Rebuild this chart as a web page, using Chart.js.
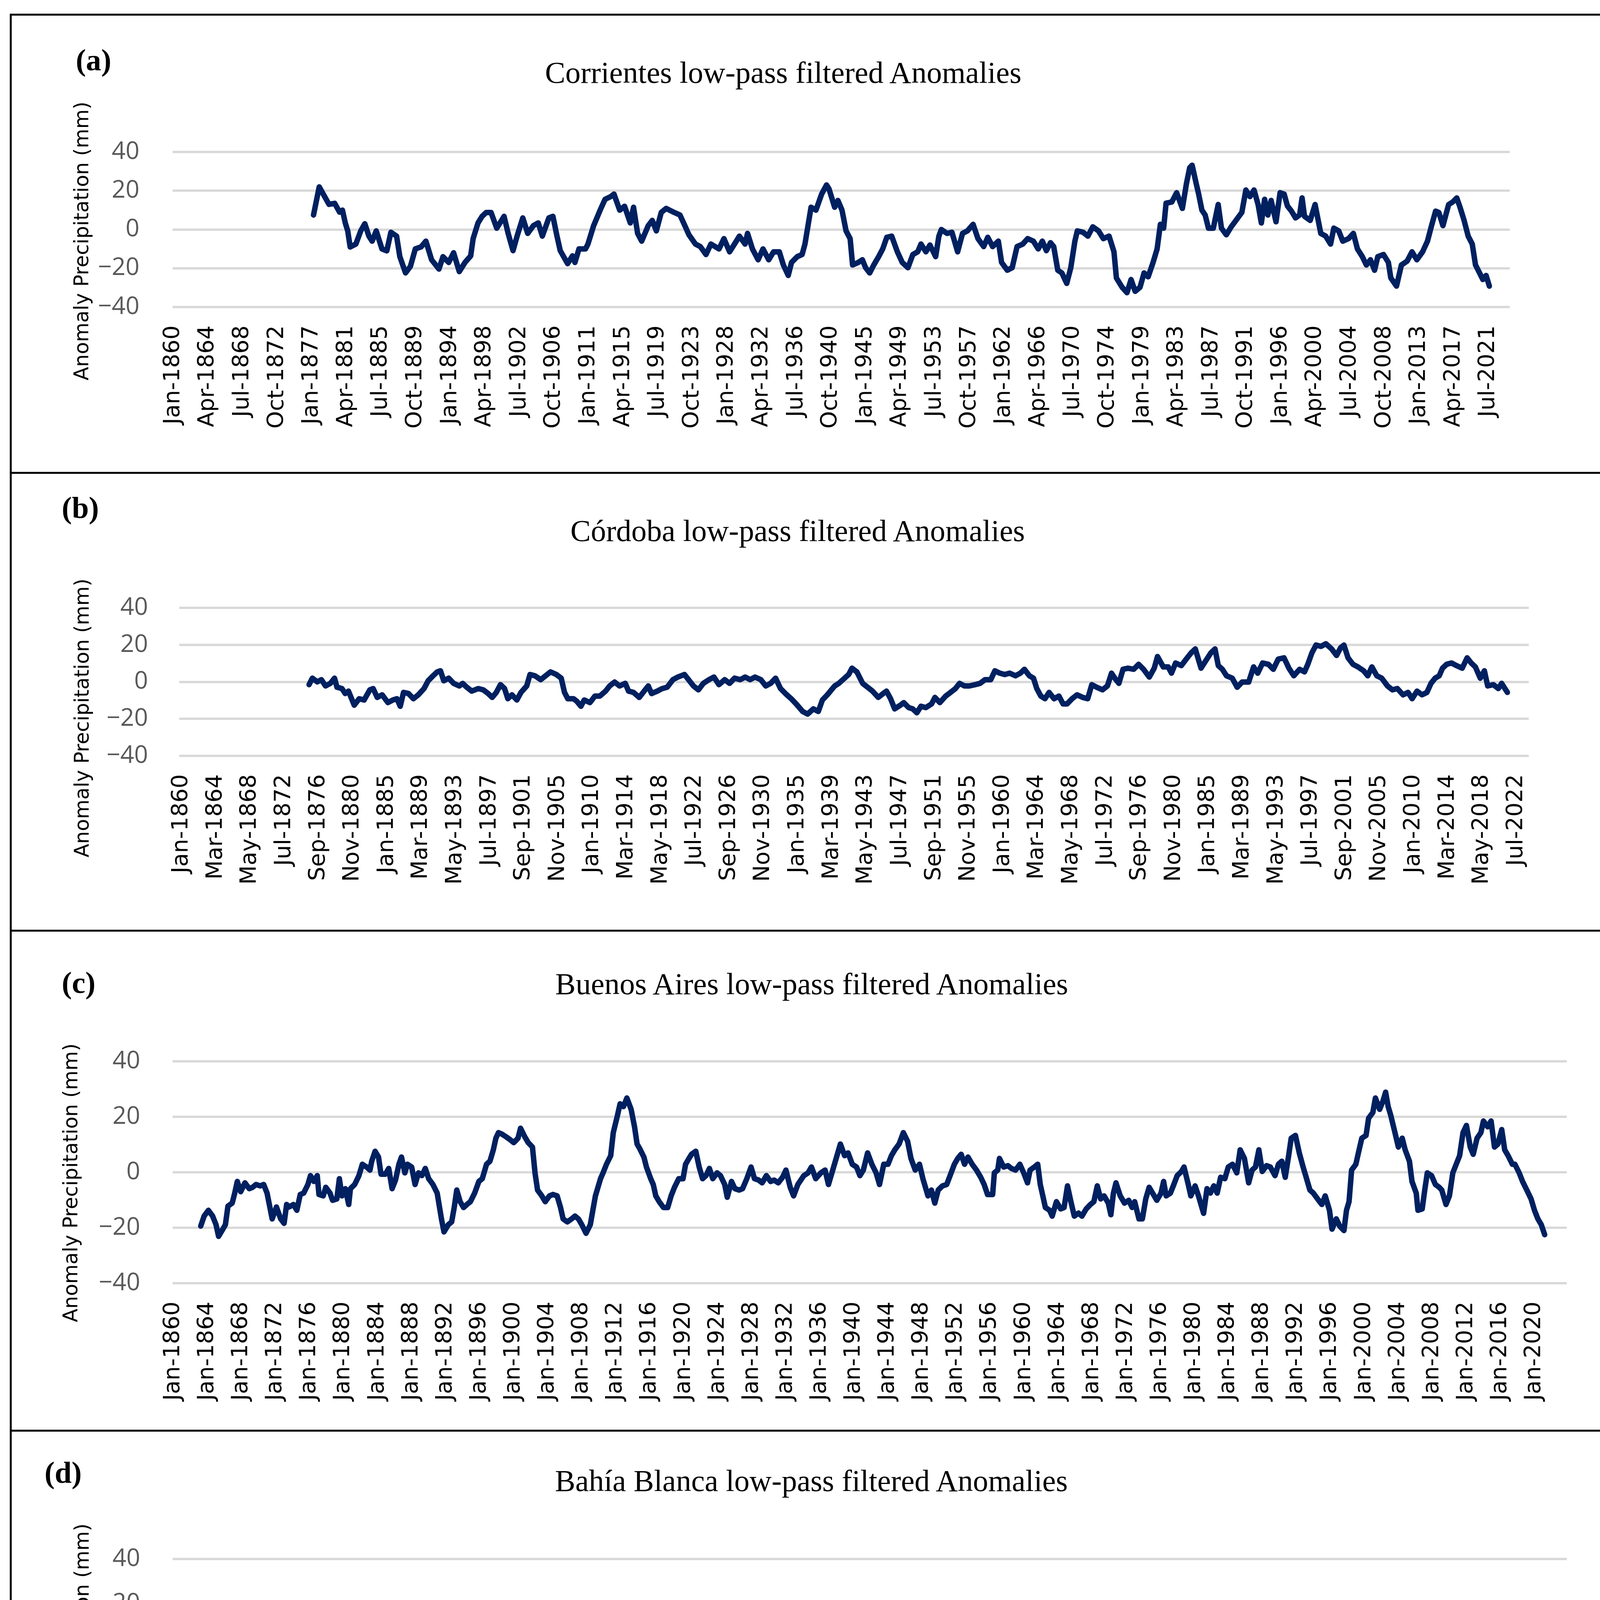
<!DOCTYPE html>
<html>
<head>
<meta charset="utf-8">
<title>Low-pass filtered precipitation anomalies</title>
<script src="https://cdn.jsdelivr.net/npm/chart.js"></script>
<style>
  html, body { margin: 0; padding: 0; background: #fff; }
  body { position: relative; width: 4159px; height: 4869px; overflow: hidden; }
  .frame { position: absolute; left: 25px; top: 35px; width: 4096px; height: 4800px; border: 5px solid #000; box-sizing: border-box; }
  .rule { position: absolute; left: 25px; width: 4096px; height: 5px; background: #000; }
  .tag { position: absolute; font: bold 78px "Liberation Serif", "Times New Roman", serif; line-height: 1; white-space: nowrap; }
  .ttl { position: absolute; font: 78px "Liberation Serif", "Times New Roman", serif; line-height: 1; white-space: nowrap; transform: translateX(-50%); }
  .ytl { position: absolute; font: 51px "DejaVu Sans", sans-serif; line-height: 1; white-space: nowrap; color: #000;
         transform: translate(-50%, -50%) rotate(-90deg); }
  canvas { position: absolute; }
</style>
</head>
<body>

<div class="frame"></div>
<div class="rule" style="top:1208px"></div>
<div class="rule" style="top:2380px"></div>
<div class="rule" style="top:3660px"></div>

<div class="tag" style="left:194px;top:115px">(a)</div>
<div class="ttl" style="left:2005px;top:147px">Corrientes low-pass filtered Anomalies</div>
<div class="ytl" style="left:208px;top:617px">Anomaly Precipitation (mm)</div>
<canvas id="chartA"></canvas>

<div class="tag" style="left:158px;top:1261px">(b)</div>
<div class="ttl" style="left:2042px;top:1320px">Córdoba low-pass filtered Anomalies</div>
<div class="ytl" style="left:209px;top:1838px">Anomaly Precipitation (mm)</div>
<canvas id="chartB"></canvas>

<div class="tag" style="left:158px;top:2477px">(c)</div>
<div class="ttl" style="left:2078px;top:2480px">Buenos Aires low-pass filtered Anomalies</div>
<div class="ytl" style="left:180px;top:3028px">Anomaly Precipitation (mm)</div>
<canvas id="chartC"></canvas>

<div class="tag" style="left:114px;top:3731px">(d)</div>
<div class="ttl" style="left:2077px;top:3752px">Bahía Blanca low-pass filtered Anomalies</div>
<div class="ytl" style="left:209px;top:4257px">Anomaly Precipitation (mm)</div>
<canvas id="chartD"></canvas>

<script>
// ---- data (decimal year, anomaly in mm) ----

const yTickValues = [-40, -20, 0, 20, 40];

const corrientesTicks = ['Jan-1860','Apr-1864','Jul-1868','Oct-1872','Jan-1877','Apr-1881','Jul-1885','Oct-1889',
  'Jan-1894','Apr-1898','Jul-1902','Oct-1906','Jan-1911','Apr-1915','Jul-1919','Oct-1923','Jan-1928','Apr-1932',
  'Jul-1936','Oct-1940','Jan-1945','Apr-1949','Jul-1953','Oct-1957','Jan-1962','Apr-1966','Jul-1970','Oct-1974',
  'Jan-1979','Apr-1983','Jul-1987','Oct-1991','Jan-1996','Apr-2000','Jul-2004','Oct-2008','Jan-2013','Apr-2017','Jul-2021'];

const cordobaTicks = ['Jan-1860','Mar-1864','May-1868','Jul-1872','Sep-1876','Nov-1880','Jan-1885','Mar-1889',
  'May-1893','Jul-1897','Sep-1901','Nov-1905','Jan-1910','Mar-1914','May-1918','Jul-1922','Sep-1926','Nov-1930',
  'Jan-1935','Mar-1939','May-1943','Jul-1947','Sep-1951','Nov-1955','Jan-1960','Mar-1964','May-1968','Jul-1972',
  'Sep-1976','Nov-1980','Jan-1985','Mar-1989','May-1993','Jul-1997','Sep-2001','Nov-2005','Jan-2010','Mar-2014',
  'May-2018','Jul-2022'];

const fourYearTicks = ['Jan-1860','Jan-1864','Jan-1868','Jan-1872','Jan-1876','Jan-1880','Jan-1884','Jan-1888',
  'Jan-1892','Jan-1896','Jan-1900','Jan-1904','Jan-1908','Jan-1912','Jan-1916','Jan-1920','Jan-1924','Jan-1928',
  'Jan-1932','Jan-1936','Jan-1940','Jan-1944','Jan-1948','Jan-1952','Jan-1956','Jan-1960','Jan-1964','Jan-1968',
  'Jan-1972','Jan-1976','Jan-1980','Jan-1984','Jan-1988','Jan-1992','Jan-1996','Jan-2000','Jan-2004','Jan-2008',
  'Jan-2012','Jan-2016','Jan-2020'];

const corrientesYears = [1877.2,1877.9,1879.1,1879.8,1880.4,1880.75,1881.1,1881.4,1881.7,1882.4,1883.0,1883.5,1884.0,
  1884.4,1884.9,1885.6,1886.2,1886.7,1887.4,1887.8,1888.5,1889.1,1889.7,1890.4,1891.0,1891.7,1892.6,1893.1,1893.8,
  1894.4,1895.1,1895.8,1896.5,1896.8,1897.4,1897.9,1898.4,1899.0,1899.7,1900.6,1901.1,1901.7,1902.2,1902.9,1903.5,
  1904.2,1904.8,1905.3,1906.1,1906.6,1907.1,1907.5,1908.4,1909.0,1909.3,1909.8,1910.6,1910.9,1911.6,1912.4,1913.0,
  1913.7,1914.1,1914.8,1915.4,1916.1,1916.5,1917.0,1917.5,1918.3,1918.8,1919.3,1919.9,1920.5,1921.5,1922.2,1922.8,
  1923.3,1924.1,1924.7,1925.4,1926.0,1927.0,1927.6,1928.3,1928.9,1929.5,1930.2,1930.5,1931.1,1931.8,1932.4,1933.1,
  1933.7,1934.4,1934.9,1935.5,1935.9,1936.6,1937.2,1937.55,1938.3,1938.9,1939.6,1940.2,1940.5,1941.2,1941.6,1942.1,
  1942.6,1943.1,1943.4,1944.1,1944.6,1945.0,1945.5,1946.0,1946.6,1947.1,1947.6,1948.2,1948.9,1949.5,1950.2,1950.8,
  1951.4,1951.8,1952.4,1952.9,1953.6,1954.0,1954.3,1955.0,1955.6,1956.3,1956.9,1957.5,1958.2,1958.8,1959.5,1960.0,
  1960.6,1961.3,1961.7,1962.4,1963.0,1963.6,1964.3,1964.9,1965.6,1966.2,1966.7,1967.2,1967.7,1968.1,1968.6,1969.1,
  1969.7,1970.2,1970.7,1971.0,1971.7,1972.3,1972.9,1973.6,1974.2,1974.9,1975.5,1975.8,1976.5,1977.1,1977.6,1978.1,
  1978.7,1979.2,1979.7,1980.3,1980.8,1981.2,1981.6,1981.9,1982.6,1983.2,1983.9,1984.4,1984.8,1985.1,1985.6,1985.9,
  1986.3,1986.7,1987.1,1987.7,1988.3,1988.7,1989.3,1989.9,1990.6,1991.2,1991.7,1992.2,1992.7,1993.2,1993.6,1994.0,
  1994.4,1994.8,1995.4,1995.9,1996.4,1996.8,1997.3,1997.8,1998.3,1998.6,1998.9,1999.6,2000.2,2000.9,2001.5,2002.1,
  2002.5,2003.1,2003.6,2004.3,2004.9,2005.4,2006.0,2006.5,2007.0,2007.5,2007.9,2008.6,2009.2,2009.5,2010.2,2010.8,
  2011.5,2012.1,2012.7,2013.4,2014.0,2014.5,2015.0,2015.4,2015.9,2016.6,2017.1,2017.6,2018.0,2018.5,2019.0,2019.5,
  2019.9,2020.4,2020.8,2021.2,2021.6];
const corrientesValues = [7.5,22,13,13.5,9,10,3.4,-0.7,-9,-7.5,-0.7,3,-3.4,
  -6,-0.7,-10,-11,-1.4,-3.4,-14,-22.4,-19,-10,-9,-6,-15.6,-20.4,-14,-17,
  -12,-21.7,-17,-13.6,-4.7,3.4,6.8,8.8,8.8,0.7,6.8,-2,-10.9,-3.4,6,-2,
  2,3.4,-3.4,6,6.8,-3.4,-10.9,-17.6,-13.6,-17,-10,-10,-7.5,2,10,15.6,
  17,18.3,10,12,3.4,11.5,-2,-6,2,4.7,-0.7,8.8,10.9,8.8,7.5,2,
  -2.7,-7.5,-8.8,-12.9,-7.5,-10,-4.7,-11.5,-7.5,-3.4,-7.5,-2,-10,-15.6,-10,-15.6,
  -11.5,-11.5,-18.3,-23.7,-17,-14,-12.9,-7.5,11.5,10,18.3,23,21,11.5,15,10,
  -0.7,-4.7,-18.3,-17,-15.6,-19.7,-22.4,-18.3,-14,-10,-4,-3.4,-11.5,-17,-19.7,-12.9,
  -11.5,-7.5,-11.5,-8,-14,-3.4,0,-2,-1.4,-11.5,-2,-0.7,2.7,-4.7,-8.8,-4,
  -8.8,-6,-17,-21,-19.7,-8.8,-7.5,-4.7,-6,-10,-6,-10.9,-6.8,-8.8,-21,-22.4,
  -27.8,-19.7,-6,-0.7,-1.4,-3.4,1.4,-0.7,-4.7,-3.4,-11.5,-25,-29.8,-32.6,-25.8,-31.9,
  -29.8,-22.4,-24.4,-17,-10,2.7,0.7,13.6,14.2,19,10.9,23.7,31.9,33.2,23.7,18.3,
  10,7.5,0.7,0.7,12.9,0.7,-2.7,1.4,5.4,8.8,20.4,17,20.4,12.9,3.4,15.6,
  7.5,15,4,19,18.3,12.2,9.5,6,7.5,16.3,6.8,4.7,12.9,-2,-3.4,-7.5,
  0.7,-0.7,-6,-4.7,-2,-10,-14,-18.3,-15.6,-21,-14,-12.9,-17,-25,-29.2,-18.3,
  -16.3,-11.5,-15.6,-11.5,-6,2,9.5,8.8,2,12.9,14.2,16.3,11.5,4.7,-3.4,-7.5,
  -18.3,-22.4,-25.8,-23.7,-29.2];

const cordobaYears = [1875.5,1875.9,1876.5,1877.0,1877.5,1878.1,1878.6,1878.9,1879.5,1879.9,1880.3,1881.0,1881.6,
  1882.2,1882.9,1883.3,1883.8,1884.4,1885.1,1885.7,1886.2,1886.6,1887.0,1887.6,1888.2,1888.8,1889.5,1890.0,1890.6,
  1891.1,1891.5,1891.9,1892.5,1893.1,1893.8,1894.2,1894.7,1895.3,1896.1,1896.7,1897.3,1897.8,1898.3,1898.8,1899.3,
  1899.7,1900.2,1900.8,1901.3,1902.0,1902.4,1903.0,1903.7,1904.3,1904.9,1905.6,1906.2,1906.6,1907.0,1907.7,1908.1,
  1908.6,1909.0,1909.7,1910.3,1910.9,1911.6,1912.1,1912.7,1913.3,1914.0,1914.4,1915.0,1915.7,1916.3,1916.8,1917.2,
  1917.9,1918.5,1919.1,1919.8,1920.4,1921.2,1921.7,1922.3,1922.9,1923.5,1924.2,1924.8,1925.4,1926.1,1926.7,1927.3,
  1928.0,1928.6,1929.2,1929.8,1930.5,1931.1,1931.7,1932.3,1932.9,1933.5,1934.2,1934.8,1935.6,1936.2,1936.9,1937.5,
  1938.0,1938.6,1939.1,1939.5,1940.0,1940.7,1941.2,1941.6,1942.2,1942.9,1943.5,1944.1,1944.8,1945.4,1945.8,1946.3,
  1946.8,1947.5,1947.9,1948.5,1949.0,1949.5,1950.0,1950.6,1951.3,1951.7,1952.3,1953.0,1953.6,1954.2,1954.7,1955.3,
  1955.9,1956.6,1957.2,1957.8,1958.5,1959.0,1959.6,1960.2,1960.8,1961.5,1962.1,1962.6,1963.2,1963.7,1964.1,1964.6,
  1965.1,1965.6,1966.2,1966.8,1967.3,1967.8,1968.4,1969.0,1969.7,1970.3,1970.8,1971.4,1972.1,1972.7,1973.2,1973.6,
  1974.1,1974.6,1975.2,1975.9,1976.5,1977.1,1977.8,1978.4,1978.8,1979.5,1980.1,1980.5,1981.0,1981.7,1982.3,1982.9,
  1983.4,1984.1,1984.7,1985.3,1985.8,1986.2,1986.7,1987.2,1987.9,1988.5,1989.1,1989.9,1990.5,1991.0,1991.6,1992.3,
  1992.9,1993.5,1994.2,1994.8,1995.4,1996.1,1996.7,1997.1,1997.6,1998.1,1998.7,1999.3,2000.0,2000.6,2001.1,2001.5,
  2002.0,2002.6,2003.2,2003.9,2004.4,2004.9,2005.5,2006.1,2006.8,2007.4,2008.0,2008.7,2009.3,2009.8,2010.4,2011.0,
  2011.6,2012.1,2012.6,2013.1,2013.5,2014.0,2014.6,2015.2,2015.9,2016.5,2017.0,2017.5,2018.1,2018.6,2019.0,2019.7,
  2020.3,2020.7,2021.1,2021.4];
const cordobaValues = [-1.5,2,0,1.2,-2.2,-0.8,2,-2.9,-3.6,-6.3,-5,-12.6,-9.1,
  -9.8,-4.3,-3.6,-8.4,-7,-11.2,-9.8,-9.1,-13.2,-5.7,-6.3,-9.1,-7,-3.6,0.6,3.3,
  5.4,6,0.6,2,-0.8,-2.2,-0.8,-2.9,-5,-3.6,-4.3,-6.3,-8.4,-5.7,-1.5,-3.6,
  -9.1,-7,-9.8,-5.7,-2.2,4,3.3,1.2,3.3,5.4,4,2,-5.7,-9.1,-9.1,-10.5,
  -13.2,-9.8,-11.2,-7.7,-7.7,-5,-2.2,-0.1,-2.2,-0.8,-5,-5.7,-8.4,-5,-2.2,-6.3,
  -5,-3.6,-2.9,1.2,2.6,4,1.2,-2.2,-4.3,-0.8,1.2,2.6,-1.5,1.2,-0.8,2,
  1.2,2.6,1.2,2.6,1.2,-2.2,-0.8,2,-3.6,-6.3,-9.1,-11.9,-16,-17.4,-14.6,-16,
  -9.8,-7,-4.3,-2.2,-0.8,2,4,7.4,5.4,-0.8,-2.9,-5,-8.4,-6.3,-5,-9.1,
  -14.6,-12.6,-11.2,-13.9,-14.6,-16.7,-13.2,-13.9,-11.9,-8.4,-11.2,-7.7,-5.7,-3.6,-0.8,-2.2,
  -2.2,-1.5,-0.8,1.2,1.2,6,4.7,4,4.7,3.3,4.7,6.8,3.3,2,-3.6,-7.7,
  -9.1,-5.7,-9.1,-7.7,-11.9,-11.9,-9.1,-7,-8.4,-9.1,-1.5,-2.9,-4.3,-2.2,4.7,2,
  -0.8,6.8,7.4,6.8,9.5,6.8,2.6,7.4,13.7,8.1,8.1,4.7,10.2,8.8,12.3,15.7,
  17.8,7.4,11.6,15.7,17.8,8.8,6.8,3.3,2,-2.9,-0.1,-0.1,8.1,4.7,10.2,9.5,
  6.8,12.3,13,7.4,3.3,6.8,5.4,9.5,15.7,19.9,19.2,20.6,17.8,14.3,18.5,19.9,
  13,9.5,8.1,6,3.3,8.1,3.3,2,-2.2,-4.3,-3.6,-7,-5.7,-9.1,-5,-7,
  -5.7,-0.8,2,3.3,7.4,9.5,10.2,8.8,7.4,13,10.2,8.1,2,6,-2.2,-1.5,
  -3.6,-0.8,-3.6,-5.7];

const buenosAiresYears = [1863.2,1863.6,1864.1,1864.6,1865.0,1865.3,1865.8,1866.1,1866.4,1866.9,1867.2,1867.5,1867.9,
  1868.4,1868.9,1869.3,1869.7,1870.2,1870.6,1871.0,1871.4,1871.6,1872.1,1872.6,1873.0,1873.3,1873.6,1874.1,1874.5,
  1874.9,1875.3,1875.8,1876.1,1876.5,1876.9,1877.1,1877.6,1877.9,1878.4,1878.7,1879.2,1879.5,1879.8,1880.2,1880.6,
  1880.8,1881.3,1881.8,1882.2,1882.7,1883.1,1883.3,1883.7,1884.1,1884.4,1884.9,1885.3,1885.7,1886.1,1886.5,1886.8,
  1887.2,1887.5,1888.0,1888.4,1888.8,1889.2,1889.6,1890.0,1890.5,1891.0,1891.5,1891.8,1892.3,1892.7,1893.0,1893.3,
  1893.7,1894.1,1894.5,1894.9,1895.4,1895.9,1896.3,1896.8,1897.2,1897.6,1897.9,1898.2,1898.6,1899.1,1899.6,1900.0,
  1900.5,1900.8,1901.3,1901.7,1902.2,1902.5,1902.8,1903.3,1903.7,1904.2,1904.6,1905.1,1905.5,1905.8,1906.3,1906.8,
  1907.2,1907.6,1908.0,1908.5,1909.0,1909.3,1909.6,1909.9,1910.2,1910.5,1910.9,1911.4,1911.7,1912.2,1912.5,1912.9,
  1913.3,1913.8,1914.2,1914.5,1914.8,1915.3,1915.6,1916.1,1916.4,1916.7,1917.1,1917.6,1918.1,1918.5,1918.9,1919.4,
  1919.9,1920.2,1920.5,1920.9,1921.4,1921.8,1922.2,1922.6,1923.0,1923.4,1923.9,1924.3,1924.8,1925.1,1925.6,1926.0,
  1926.5,1926.9,1927.4,1927.9,1928.3,1928.8,1929.2,1929.7,1930.2,1930.6,1931.1,1931.6,1932.0,1932.5,1932.9,1933.4,
  1934.1,1934.6,1935.0,1935.5,1936.1,1936.6,1937.0,1937.5,1938.0,1938.4,1938.9,1939.3,1939.8,1940.3,1940.7,1941.1,
  1941.6,1942.1,1942.6,1943.0,1943.5,1944.0,1944.4,1944.8,1945.3,1945.8,1946.3,1946.7,1947.2,1947.7,1948.1,1948.7,
  1949.1,1949.5,1949.9,1950.4,1950.9,1951.3,1951.8,1952.2,1952.6,1953.0,1953.4,1953.9,1954.4,1954.9,1955.3,1955.7,
  1956.3,1956.5,1956.9,1957.1,1957.6,1958.1,1958.5,1959.0,1959.5,1959.95,1960.4,1960.7,1961.2,1961.6,1961.9,1962.2,
  1962.5,1963.0,1963.3,1963.8,1964.3,1964.7,1965.1,1965.5,1965.9,1966.4,1966.8,1967.3,1967.8,1968.2,1968.6,1969.0,
  1969.4,1969.9,1970.2,1970.5,1970.8,1971.3,1971.8,1972.3,1972.7,1973.0,1973.5,1973.9,1974.3,1974.7,1975.1,1975.6,
  1976.1,1976.4,1976.7,1977.2,1977.6,1978.0,1978.5,1978.8,1979.3,1979.6,1980.1,1980.5,1980.9,1981.1,1981.5,1981.9,
  1982.3,1982.7,1983.1,1983.6,1984.0,1984.5,1985.0,1985.4,1985.9,1986.4,1986.8,1987.2,1987.6,1988.0,1988.5,1988.95,
  1989.5,1989.9,1990.3,1990.7,1991.1,1991.4,1991.9,1992.35,1992.8,1993.1,1993.6,1994.0,1994.5,1995.0,1995.4,1995.9,
  1996.2,1996.7,1997.1,1997.6,1997.9,1998.2,1998.5,1999.0,1999.3,1999.7,2000.2,2000.5,2001.0,2001.3,2001.8,2002.2,
  2002.5,2002.8,2003.1,2003.6,2004.0,2004.45,2004.8,2005.3,2005.6,2006.1,2006.3,2006.8,2007.1,2007.4,2007.9,2008.35,
  2008.8,2009.1,2009.6,2010.0,2010.4,2010.8,2011.2,2011.6,2012.0,2012.45,2012.8,2013.25,2013.7,2014.0,2014.5,2014.9,
  2015.3,2015.7,2016.15,2016.5,2016.9,2017.4,2017.7,2018.2,2018.6,2019.1,2019.6,2020.0,2020.4,2020.8,2021.2];
const buenosAiresValues = [-19.4,-15.8,-13.7,-15.8,-18.9,-23.1,-20.5,-18.9,-12.2,-11.1,-7.5,-3.3,-7,
  -3.8,-5.9,-5.4,-4.4,-4.9,-4.4,-7.5,-13.7,-16.8,-12.5,-16.8,-18.4,-11.6,-12.5,-11.6,-13.7,
  -8,-7.5,-4.4,-1.2,-3.3,-1.2,-8,-8.5,-5.4,-7.5,-10.1,-9.6,-2.3,-8.5,-5.9,-11.6,
  -5.9,-4.4,-1.2,2.9,1.9,0.8,4,7.6,5.5,-0.7,-0.7,1.4,-5.9,-2.8,2.9,5.5,
  -0.2,2.9,1.9,-4.4,-0.2,-1.2,1.4,-2.3,-4.4,-7.5,-16.8,-21.5,-18.9,-17.9,-12.7,-6.4,
  -10.6,-12.7,-11.6,-10.6,-7.5,-3.3,-2.3,2.9,4,8.1,12.3,14.3,13.8,12.8,11.7,10.7,
  12.3,15.9,12.8,10.7,9.1,-0.2,-6.4,-8.5,-10.6,-8.5,-8,-8.5,-12.7,-16.8,-17.9,-16.8,
  -15.8,-16.8,-18.9,-22,-18.9,-13.7,-8.5,-5.4,-2.3,-0.2,2.9,6,14.3,20.6,24.7,23.7,
  26.8,22.7,16.4,10.2,8.6,5.5,1.9,-2.3,-4.4,-8.5,-10.6,-12.7,-12.7,-8.5,-5.4,-2.3,
  -2.3,2.9,4.5,6.5,7.6,1.9,-2.3,-1.2,1.4,-2.3,-0.2,-1.2,-4.4,-9,-3.3,-5.9,
  -6.4,-5.9,-2.3,1.9,-2.3,-2.8,-3.8,-1.2,-3.3,-2.8,-3.8,-1.8,0.8,-5.4,-8.5,-4.4,
  -1.2,-0.2,1.9,-2.3,-0.2,0.8,-4.4,0.8,6,10.2,6,7,2.9,1.9,-1.2,0.8,
  7,2.9,-0.2,-4.4,2.9,2.9,6,8.1,10.2,14.3,11.2,5,0.8,2.9,-2.3,-8.5,
  -6.4,-11.1,-6.4,-4.9,-4.4,-1.2,2.9,5,6.5,2.9,5.5,2.9,0.8,-1.8,-4.4,-8,
  -8,-0.2,0.8,5,1.9,2.4,1.4,0.8,2.9,-0.2,-3.8,0.8,1.9,2.9,-4.4,-8.5,
  -12.7,-13.7,-15.8,-10.6,-13.2,-12.7,-4.9,-10.6,-15.8,-14.7,-15.8,-13.2,-11.6,-10.6,-4.9,-9.6,
  -8.5,-11.1,-15.3,-7.5,-3.8,-8.5,-11.1,-10.1,-12.7,-10.6,-16.8,-16.8,-9.6,-5.4,-7.5,-10.1,
  -7.5,-3.3,-8.5,-7.5,-4.4,-1.2,0.3,1.9,-4.4,-8.5,-4.9,-8.5,-12.7,-14.8,-5.9,-7.5,
  -4.9,-7.5,-1.8,-2.3,1.9,2.9,-0.2,8.1,5,-3.8,0.8,1.9,8.1,0.3,2.4,1.9,
  -1.2,2.9,4,-1.8,6,12.3,13.3,7,1.9,-1.2,-6.4,-7.5,-9.6,-11.6,-8.5,-13.7,
  -20.5,-16.8,-19.4,-21,-13.7,-10.6,0.8,2.9,7,12.3,13.3,19.5,21.6,26.8,22.7,25.8,
  28.9,23.7,20.6,14.3,9.1,12.3,8.1,4,-3.3,-7.5,-13.7,-13.2,-6.4,-0.2,-1.2,-4.4,
  -5.4,-6.4,-11.6,-8.5,-0.2,2.9,6,14.3,16.9,9.1,6.5,12.3,14.3,18.5,16.4,18.5,
  9.1,10.2,15.4,8.1,6,2.9,2.9,-0.2,-3.3,-6.4,-9.6,-13.7,-16.8,-18.9,-22.5];

const bahiaBlancaYears = [1862.2,1862.6,1863.0,1863.5,1864.0,1864.4,1864.9,1865.4,1865.9,1866.3,1866.6,1867.1,1867.5,
  1867.9,1868.4,1868.9,1869.4,1869.8,1870.3,1870.8,1871.2,1871.7,1872.2,1872.7,1873.1,1873.4,1873.7,1874.1,1874.5,
  1874.8,1875.1,1875.6,1875.9,1876.4,1876.8,1877.2,1877.6,1878.0,1878.5,1878.9,1879.3,1879.6,1880.1,1880.5,1880.9,
  1881.4,1881.9,1882.4,1882.8,1883.3,1883.8,1884.2,1884.5,1885.0,1885.4,1885.9,1886.4,1886.7,1887.1,1887.6,1888.1,
  1888.5,1889.0,1889.4,1889.8,1890.2,1890.7,1891.2,1891.6,1892.1,1892.4,1892.9,1893.3,1893.8,1894.3,1894.7,1895.2,
  1895.6,1896.1,1896.6,1897.0,1897.4,1897.8,1898.1,1898.6,1899.1,1899.5,1900.0,1900.3,1900.7,1901.1,1901.5,1902.0,
  1902.4,1902.8,1903.2,1903.7,1904.2,1904.6,1905.0,1905.4,1905.8,1906.3,1906.7,1907.1,1907.5,1908.0,1908.5,1908.9,
  1909.4,1909.9,1910.4,1910.8,1911.2,1911.6,1912.0,1912.5,1913.0,1913.5,1913.9,1914.3,1914.8,1915.3,1915.8,1916.2,
  1916.7,1917.2,1917.6,1918.0,1918.5,1919.0,1919.5,1919.9,1920.3,1920.7,1921.1,1921.5,1922.0,1922.4,1922.9,1923.4,
  1923.8,1924.2,1924.7,1925.2,1925.6,1925.9,1926.4,1926.8,1927.3,1927.7,1928.1,1928.4,1928.9,1929.3,1929.8,1930.3,
  1930.7,1931.2,1931.6,1932.1,1932.4,1932.9,1933.3,1933.8,1934.7,1935.3,1935.9,1936.5,1937.0,1937.45,1937.9,1938.4,
  1938.9,1939.3,1939.6,1940.1,1940.5,1941.0,1941.5,1941.96,1942.4,1942.8,1943.3,1943.8,1944.2,1944.7,1945.2,1945.7,
  1946.1,1946.5,1946.9,1947.3,1947.65,1948.1,1948.6,1948.9,1949.4,1949.8,1950.2,1950.7,1951.2,1951.7,1952.1,1952.6,
  1953.1,1953.5,1953.8,1954.3,1954.75,1955.2,1955.7,1956.2,1956.6,1957.05,1957.5,1958.0,1958.5,1958.9,1959.4,1959.9,
  1960.3,1960.75,1961.2,1961.7,1962.2,1962.6,1963.1,1963.6,1964.0,1964.5,1964.95,1965.45,1965.9,1966.3,1966.8,1967.3,
  1967.55,1968.0,1968.5,1968.97,1969.4,1969.9,1970.4,1970.8,1971.25,1971.75,1972.2,1972.7,1973.1,1973.6,1974.1,1974.5,
  1974.95,1975.45,1975.95,1976.4,1976.8,1977.3,1977.8,1978.2,1978.7,1979.2,1979.5,1979.9,1980.4,1980.9,1981.3,1981.8,
  1982.3,1982.6,1982.9,1983.4,1983.8,1984.2,1984.7,1985.2,1985.65,1986.1,1986.6,1987.1,1987.5,1987.9,1988.4,1988.9,
  1989.4,1989.8,1990.3,1990.8,1991.2,1991.65,1992.1,1992.6,1993.1,1993.5,1994.0,1994.5,1994.9,1995.4,1995.85,1996.35,
  1996.8,1997.2,1997.7,1998.2,1998.6,1999.1,1999.4,1999.9,2000.3,2000.8,2001.3,2001.7,2002.2,2002.6,2003.1,2003.6,
  2004.0,2004.5,2005.0,2005.4,2005.9,2006.4,2006.85,2007.3,2007.7,2008.2,2008.7,2009.15,2009.6,2010.1,2010.6,2011.0,
  2011.4,2011.8,2012.2,2012.7,2013.2,2013.65,2014.1,2014.5,2014.9,2015.3,2015.75,2016.25,2016.7,2017.2,2017.6,2018.1,
  2018.6,2019.0,2019.5,2020.0,2020.45,2020.9,2021.2];
const bahiaBlancaValues = [-16.3,-13.3,-13.9,-11,-8.6,-9.8,-9.2,-12.2,-9.8,-6.2,-6.8,-4.4,-6.8,
  -7.4,-10.4,-13.3,-12.2,-8.6,-5,-3.8,-4.4,-3.2,-2.6,-6.2,-5,-2.6,3.3,5.7,9.3,
  6.9,3.3,6.9,8.7,6.9,4.5,6.9,2.7,7.5,4.5,-0.2,-1.4,-5.6,-3.8,-6.8,-6.2,
  -6.8,-4.4,-2,-5,-2.6,-6.2,-8.6,-5.6,-3.2,-5.6,-6.2,-5,-3.8,-6.2,-6.8,-9.8,
  -10.4,-6.8,-7.4,-6.8,-8.6,-10.4,-12.2,-13.3,-11.6,-9.8,-10.4,-8.6,-6.2,-4.4,-2.6,-0.2,
  1,-0.2,1.5,2.7,4.5,8.7,10.5,8.7,5.1,3.3,-1.4,-2.6,1,3.3,7.5,6.9,
  3.3,0.4,-0.2,-0.2,2.1,3.9,5.1,3.3,3.3,2.7,-4.4,-5.6,-3.8,-8.6,-8.6,-6.2,
  -4.4,-5,-5,-8,-8,-2.6,0.4,2.1,2.7,3.3,2.1,-2,-2.6,-3.8,-3.8,2.1,
  3.9,3.3,1,3.3,3.3,2.7,2.1,2.7,7.5,9.3,12.3,9.3,3.3,0.4,5.7,3.3,
  4.5,8.7,8.7,7.5,2.1,-3.8,-8,-8.6,-9.8,-12.2,-11,-8.6,-6.8,-12.8,-11.6,-9.8,
  -6.2,-5.6,-4.4,-3.2,-2,-3.8,-6.2,-9.2,-8.6,-9.8,-9.2,-9.8,-11,-12.8,-8.6,-6.8,
  -5,-3.2,-0.8,-3.2,-5,-6.2,-3.8,-3.2,-0.2,-2.6,-5,-1.4,0.4,-3.2,-2.6,-3.2,
  -1.4,1.5,-2.6,-6.2,-9.2,-6.2,-7.4,-11,-15.1,-15.1,-13.3,-11.6,-13.3,-15.1,-12.2,-12.8,
  -12.8,-13.9,-11,-9.2,-7.4,-5,-3.8,-5.6,-6.2,-8,-5,-2.6,-3.2,-6.2,-6.2,-11,
  -13.3,-14.5,-12.2,-12.2,-11,-13.3,-15.7,-15.1,-13.3,-11,-8.6,-6.2,-5.6,-3.8,-1.4,-0.2,
  5.1,3.3,2.1,2.7,-2.6,-1.4,-0.2,0.4,-3.2,-6.2,-8.6,-3.8,-2.6,2.1,8.1,9.9,
  8.1,11.1,11.7,13.5,14.7,8.7,12.3,11.1,8.7,3.9,1.5,6.9,3.9,5.7,2.7,1.5,
  3.3,4.5,-0.8,-1.4,-1.4,-6.2,-7.4,-9.8,-12.2,-11.6,-12.8,-10.4,-9.8,-11,-8,-6.8,
  -2.6,-1.4,-0.2,2.1,2.7,3.9,1,2.1,1,-0.2,-2.6,-0.2,-2.6,1,-1.4,0.4,
  -1.4,-2.6,-0.2,-1.4,1.5,3.9,-3.8,-7.4,-12.2,-13.3,-11,-8.6,-3.8,-6.8,-2.6,-6.2,
  -10.4,-1.4,1,2.1,1,-3.8,-6.8,-11,-8.6,-11,-9.2,-11,-15.1,-13.9,-12.2,-11,
  -8.6,-1.4,-3.8,-1.4,-2,-2.6,-2,-0.2,1,-0.8,-0.2,-0.2,-3.8,-9.8,-11.6,-11,
  -12.2,-10.4,-11,-9.8,-10.4,-12.2,-14.5];

// ---- drawing ----

const MONTHS = ['Jan','Feb','Mar','Apr','May','Jun','Jul','Aug','Sep','Oct','Nov','Dec'];
function labelToYear(s) {
  const parts = s.split('-');
  return Number(parts[1]) + MONTHS.indexOf(parts[0]) / 12;
}

function drawPanel(id, years, values, tickLabels, box) {
  const canvasLeft = 200;
  const canvasTop = box.top - 60;
  const canvas = document.getElementById(id);
  canvas.width = box.right + 60 - canvasLeft;
  canvas.height = box.bottom - box.top + 480;
  canvas.style.left = canvasLeft + 'px';
  canvas.style.top = canvasTop + 'px';

  const points = years.map((x, i) => ({ x: x, y: values[i] }));
  const lineStyle = { pointRadius: 0, tension: 0, borderJoinStyle: 'round', borderCapStyle: 'round' };
  const datasets = [Object.assign({
    data: points, borderColor: '#002060', borderWidth: box.outline ? 5 : 14, order: 0
  }, lineStyle)];
  if (box.outline) {
    // panel (d) series is drawn with a black edge around the navy line
    datasets.push(Object.assign({ data: points, borderColor: '#000', borderWidth: 15, order: 1 }, lineStyle));
  }

  new Chart(canvas, {
    type: 'line',
    data: { datasets: datasets },
    options: {
      responsive: false,
      animation: false,
      devicePixelRatio: 1,
      layout: { padding: { top: 60, right: 60, left: 0, bottom: 0 } },
      plugins: { legend: { display: false }, tooltip: { enabled: false } },
      scales: {
        x: {
          type: 'linear',
          min: box.xMin,
          max: box.xMax,
          grid: { display: false, drawTicks: false },
          border: { display: false },
          afterBuildTicks: s => { s.ticks = tickLabels.map(t => ({ value: labelToYear(t) })); },
          afterFit: s => { s.height = 420; },
          ticks: {
            autoSkip: false, minRotation: 90, maxRotation: 90, padding: 47,
            color: '#000', font: { family: 'DejaVu Sans', size: 57 },
            callback: (v, i) => tickLabels[i]
          }
        },
        y: {
          min: -40,
          max: 40,
          grid: { color: '#d9d9d9', lineWidth: 6, drawTicks: false },
          border: { display: false },
          afterBuildTicks: s => { s.ticks = yTickValues.map(v => ({ value: v })); },
          afterFit: s => { s.width = box.left - canvasLeft; },
          ticks: {
            padding: box.yPad, color: '#595959', font: { family: 'Open Sans', size: 62 },
            callback: v => (v < 0 ? '\u2212' + Math.abs(v) : String(v))
          }
        }
      }
    }
  });
}

drawPanel('chartA', corrientesYears, corrientesValues, corrientesTicks,
  { left: 442, right: 3867, top: 327, bottom: 786, yPad: 85, xMin: 1859.9, xMax: 2024.1 });
drawPanel('chartB', cordobaYears, cordobaValues, cordobaTicks,
  { left: 459, right: 3938, top: 1499, bottom: 1935, yPad: 80, xMin: 1859.7, xMax: 2024.0 });
drawPanel('chartC', buenosAiresYears, buenosAiresValues, fourYearTicks,
  { left: 442, right: 4011, top: 2657, bottom: 3285, yPad: 83, xMin: 1859.9, xMax: 2023.8 });
drawPanel('chartD', bahiaBlancaYears, bahiaBlancaValues, fourYearTicks,
  { left: 442, right: 4011, top: 3931, bottom: 4449, yPad: 83, xMin: 1859.85, xMax: 2024.6, outline: true });
</script>
</body>
</html>
